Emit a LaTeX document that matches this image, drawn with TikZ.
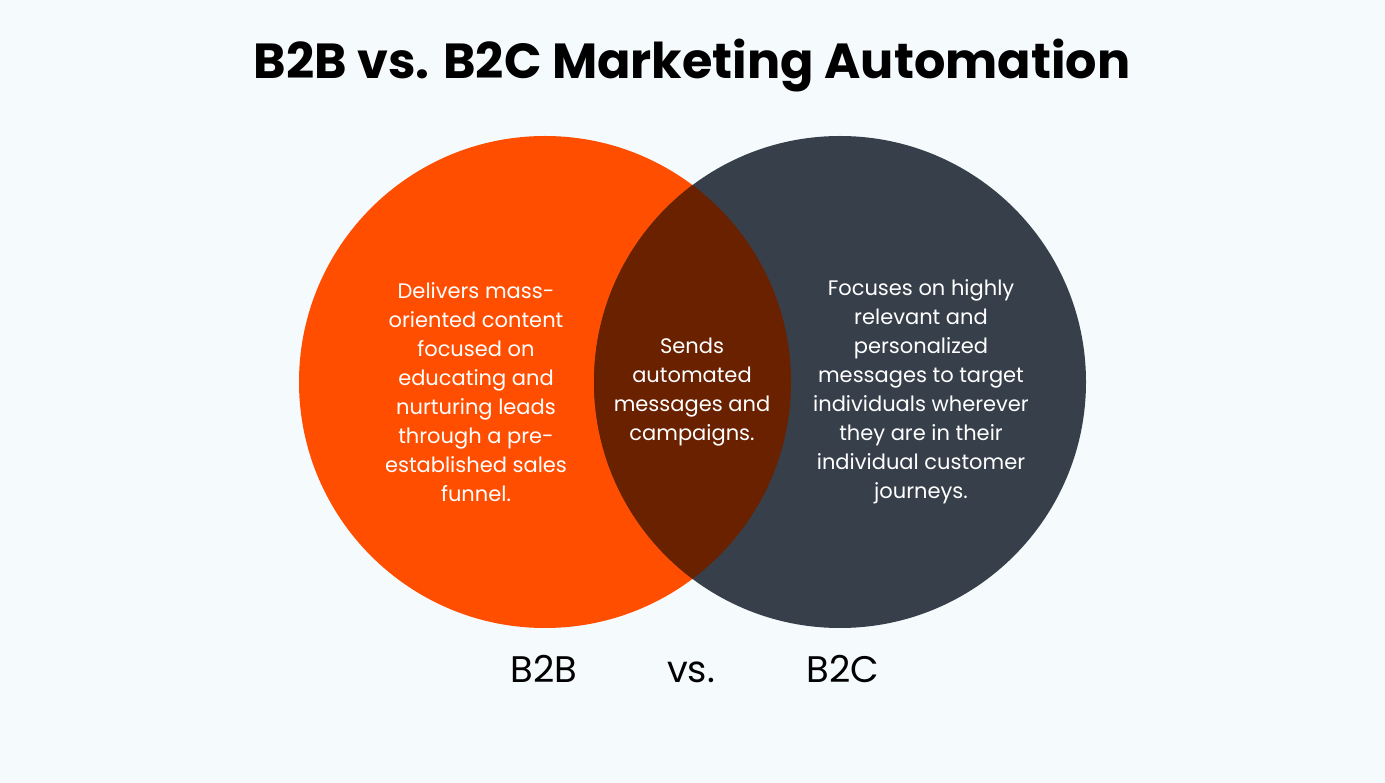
\documentclass[tikz,border=0pt]{standalone}
\usepackage{fontspec}
\setmainfont{Poppins}
\definecolor{bg}{HTML}{F5FAFD}
\definecolor{orangeC}{HTML}{FF4E00}
\definecolor{darkC}{HTML}{373F4A}
\definecolor{overlapC}{HTML}{692100}
\begin{document}
\begin{tikzpicture}[x=1pt,y=-1pt,
  bodytext/.style={text=white,align=center,font=\fontsize{21}{29}\selectfont,inner sep=0pt},
  labeltext/.style={text=black,font=\fontsize{37}{44}\selectfont,inner sep=0pt,anchor=base}]
\fill[bg] (0,0) rectangle (1385,783);
\useasboundingbox (0,0) rectangle (1385,783);
\node[font=\fontsize{49.3}{60}\selectfont\bfseries,anchor=base,inner sep=0pt] (title) at (692,79) {B2B vs. B2C Marketing Automation};
\fill[orangeC] (545,382) circle (246);
\fill[darkC] (840,382) circle (246);
\begin{scope}
  \clip (545,382) circle (246);
  \fill[overlapC] (840,382) circle (246);
\end{scope}
\node[bodytext] (b2btext) at (476,392) {Delivers mass-\\oriented content\\focused on\\educating and\\nurturing leads\\through a pre-\\established sales\\funnel.};
\node[bodytext] (midtext) at (692,392) {Sends\\automated\\messages and\\campaigns.};
\node[bodytext] (b2ctext) at (921,392) {Focuses on highly\\relevant and\\personalized\\messages to target\\individuals wherever\\they are in their\\individual customer\\journeys.};
\node[labeltext] (b2b) at (544,682) {B2B};
\node[labeltext] (vs) at (691,682) {vs.};
\node[labeltext] (b2c) at (843,682) {B2C};
\end{tikzpicture}
\end{document}
